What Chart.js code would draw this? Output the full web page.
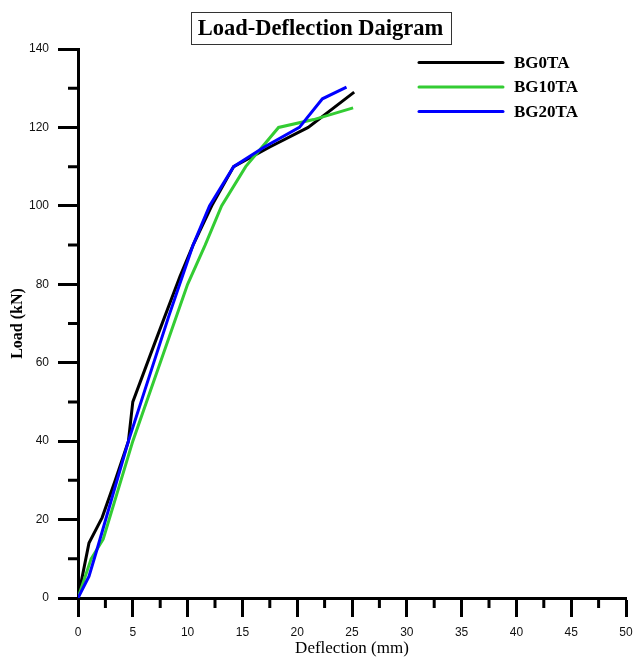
<!DOCTYPE html>
<html>
<head>
<meta charset="utf-8">
<script src="https://cdn.jsdelivr.net/npm/chart.js@4.4.0/dist/chart.umd.min.js"></script>
<style>
  html, body { margin: 0; padding: 0; background: #fff; }
  #wrap { width: 636px; height: 657px; }
</style>
</head>
<body>
<div id="wrap"><canvas id="LoadGraph" width="636" height="657"></canvas></div>
<script>
// values
const seriesNames = ['BG0TA', 'BG10TA', 'BG20TA'];

const bg0Deflection = [0, 1, 2.2, 3.4, 4.6, 5, 7, 9.3, 10.5, 12.2, 14.2, 17.5, 21, 25.2];
const bg0Load = [0, 14, 20.5, 30, 40, 50, 65, 82, 90, 100, 110, 115, 120, 129];

const bg10Deflection = [0, 1.2, 2.3, 5, 7.5, 10, 11.6, 13.1, 15.3, 18.3, 21.5, 25.1];
const bg10Load = [0, 10, 15, 40, 60, 80, 90, 100, 110, 120, 122, 125];

const bg20Deflection = [0, 1, 1.8, 4.6, 6.1, 8.3, 10.5, 12, 14.2, 17, 20.2, 22.3, 24.5];
const bg20Load = [0, 5.5, 13, 40, 53, 72, 90, 100, 110, 115, 120, 127.3, 130.3];

const xTicks = [0, 5, 10, 15, 20, 25, 30, 35, 40, 45, 50];
const yTicks = [0, 20, 40, 60, 80, 100, 120, 140];

const toPoints = (xs, ys) => xs.map((x, i) => ({x: x, y: ys[i]}));

document.addEventListener('DOMContentLoaded', () => {
    const ctx = document.getElementById('LoadGraph').getContext('2d');
    const serif = '"Liberation Serif", "Times New Roman", serif';
    const sans = 'Arial, "Liberation Sans", sans-serif';

    // title in a box, legend in the top right, minor ticks on both axes
    const decorations = {
        id: 'decorations',
        afterDraw(chart) {
            const c = chart.ctx;
            const xs = chart.scales.x;
            const ys = chart.scales.y;
            c.save();

            // minor ticks halfway between major ones
            c.strokeStyle = '#000';
            c.lineWidth = 3;
            c.beginPath();
            for (let i = 0; i < xTicks.length - 1; i++) {
                const px = xs.getPixelForValue((xTicks[i] + xTicks[i + 1]) / 2);
                c.moveTo(px, xs.top);
                c.lineTo(px, xs.top + 10);
            }
            for (let i = 0; i < yTicks.length - 1; i++) {
                const py = ys.getPixelForValue((yTicks[i] + yTicks[i + 1]) / 2);
                c.moveTo(ys.right, py);
                c.lineTo(ys.right - 10, py);
            }
            c.stroke();

            // title
            const title = 'Load-Deflection Daigram';
            c.font = 'bold 22.5px ' + serif;
            c.fillStyle = '#000';
            c.textAlign = 'center';
            c.textBaseline = 'middle';
            const w = c.measureText(title).width;
            c.fillText(title, 320.5, 29);
            c.lineWidth = 1;
            c.strokeStyle = '#333';
            c.strokeRect(Math.round(320.5 - w / 2 - 7) + 0.5, 12.5, Math.round(w + 14), 32);

            // legend
            c.font = 'bold 17px ' + serif;
            c.textAlign = 'left';
            chart.data.datasets.forEach((ds, i) => {
                const y = 62.5 + i * 24.5;
                c.strokeStyle = ds.borderColor;
                c.lineWidth = 3;
                c.lineCap = 'round';
                c.beginPath();
                c.moveTo(419, y);
                c.lineTo(503, y);
                c.stroke();
                c.fillStyle = '#000';
                c.fillText(ds.label, 514, y + 1);
            });
            c.restore();
        }
    };

    const axisCommon = {
        type: 'linear',
        border: {display: true, width: 3, color: '#000'},
        grid: {drawOnChartArea: false, drawTicks: true, tickWidth: 3, tickColor: '#000'}
    };

    new Chart(ctx, {
        type: 'line',
        data: {
            datasets: [{
                label: seriesNames[0],
                data: toPoints(bg0Deflection, bg0Load),
                borderColor: '#000000',
                order: 2
            }, {
                label: seriesNames[1],
                data: toPoints(bg10Deflection, bg10Load),
                borderColor: '#33cc33',
                order: 1
            }, {
                label: seriesNames[2],
                data: toPoints(bg20Deflection, bg20Load),
                borderColor: '#0000ff',
                order: 0
            }]
        },
        options: {
            responsive: false,
            animation: false,
            layout: {padding: {top: 49, right: 10, left: 0, bottom: 0}},
            elements: {
                line: {borderWidth: 3, tension: 0, fill: false},
                point: {radius: 0}
            },
            plugins: {
                legend: {display: false},
                tooltip: {enabled: false}
            },
            scales: {
                x: {
                    ...axisCommon,
                    min: 0,
                    max: 50,
                    grid: {...axisCommon.grid, tickLength: 19},
                    afterBuildTicks: (scale) => { scale.ticks = xTicks.map(v => ({value: v})); },
                    afterFit: (scale) => {
                        scale.height = 59;
                        scale.paddingRight = 5;
                        scale.paddingLeft = 0;
                    },
                    ticks: {
                        color: '#111',
                        padding: 8,
                        maxRotation: 0,
                        font: {family: sans, size: 12}
                    },
                    title: {
                        display: true,
                        text: 'Deflection (mm)',
                        color: '#000',
                        padding: {top: 0, bottom: 0},
                        font: {family: serif, size: 17, lineHeight: 1}
                    }
                },
                y: {
                    ...axisCommon,
                    min: 0,
                    max: 140,
                    grid: {...axisCommon.grid, tickLength: 20},
                    afterBuildTicks: (scale) => { scale.ticks = yTicks.map(v => ({value: v})); },
                    afterFit: (scale) => { scale.width = 78; },
                    ticks: {
                        color: '#111',
                        padding: 9,
                        font: {family: sans, size: 12}
                    },
                    title: {
                        display: true,
                        text: 'Load (kN)',
                        color: '#000',
                        padding: {top: 10, bottom: 0},
                        font: {family: serif, size: 16, weight: 'bold', lineHeight: 1}
                    }
                }
            }
        },
        plugins: [decorations]
    });
});
</script>
</body>
</html>
